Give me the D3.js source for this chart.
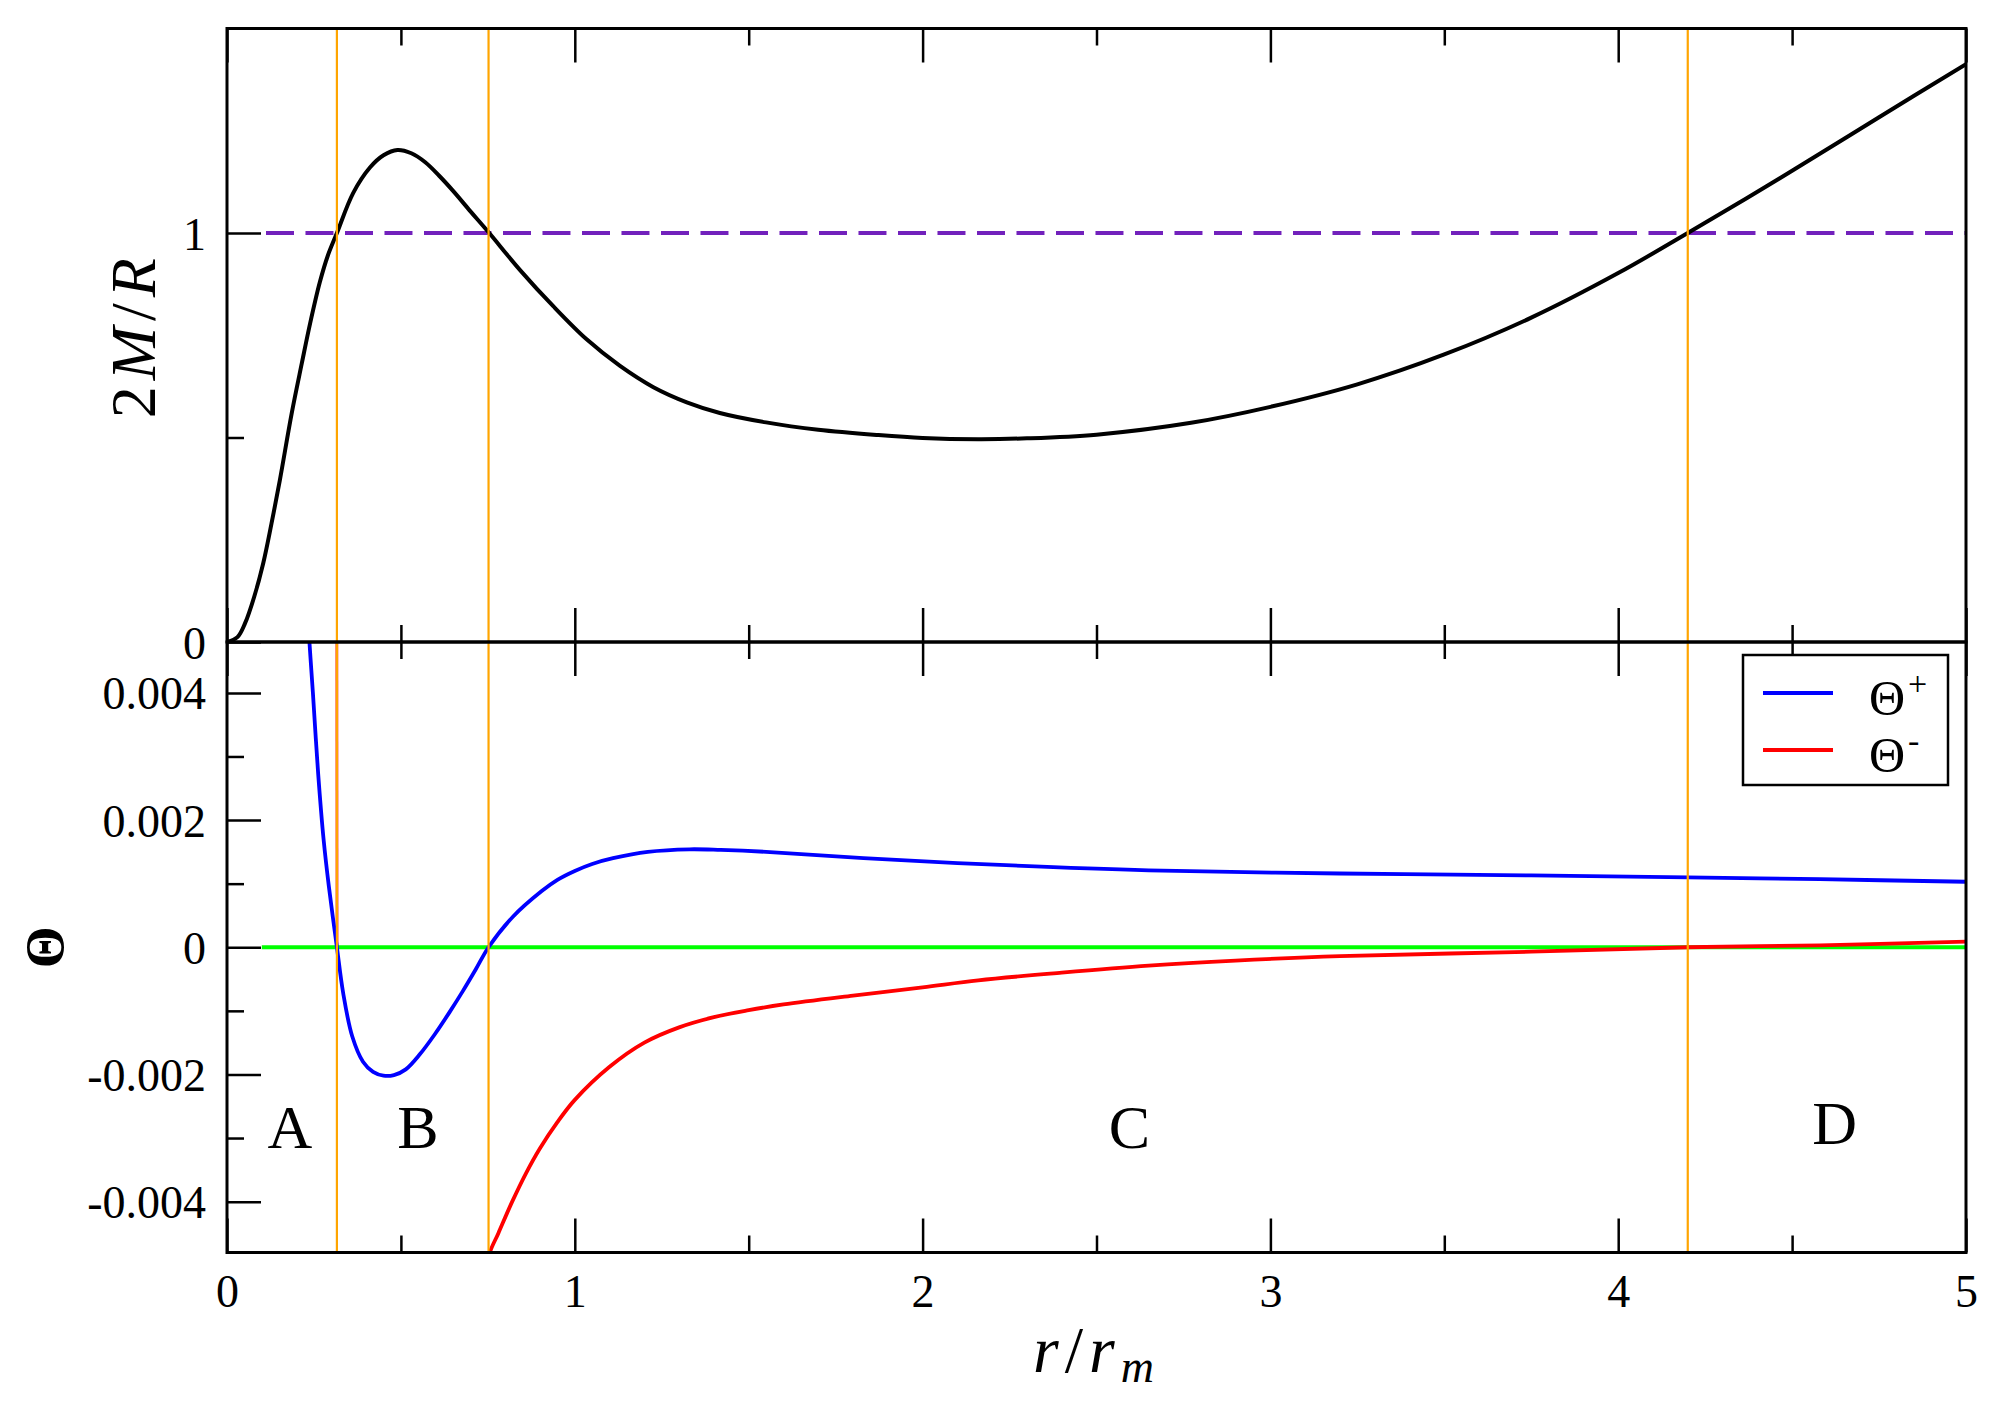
<!DOCTYPE html>
<html><head><meta charset="utf-8">
<script src="https://cdn.jsdelivr.net/npm/d3@7"></script>
<style>body{margin:0;background:#fff} text{font-family:'Liberation Serif','Times New Roman',serif;}</style>
</head><body>
<svg id="c" width="2006" height="1404" xmlns="http://www.w3.org/2000/svg"></svg>
<script>
// ---------- data ----------
const xTicks = [0, 1, 2, 3, 4, 5];
const xMinorTicks = [0.5, 1.5, 2.5, 3.5, 4.5];
const topYTicks = [0, 1];
const topYMinorTicks = [0.5];
const bottomYTicks = [-0.004, -0.002, 0, 0.002, 0.004];
const bottomYMinorTicks = [-0.003, -0.001, 0.001, 0.003];

// 2M/R versus r/r_m
const compactness = [
  [0,0],[0.03,0.012],[0.052,0.046],[0.078,0.11],[0.104,0.192],[0.128,0.29],[0.152,0.396],
  [0.186,0.559],[0.215,0.681],[0.239,0.779],[0.267,0.88],[0.29,0.945],[0.316,1.0],
  [0.363,1.098],[0.411,1.16],[0.45,1.19],[0.49,1.203],[0.53,1.195],[0.57,1.173],
  [0.61,1.14],[0.65,1.103],[0.70,1.053],[0.751,1.003],[0.842,0.910],[0.938,0.821],
  [1.034,0.740],[1.13,0.675],[1.226,0.623],[1.322,0.586],[1.417,0.560],[1.55,0.537],
  [1.7,0.519],[1.873,0.506],[2.0,0.499],[2.16,0.496],[2.3,0.498],[2.5,0.507],
  [2.772,0.536],[3.0,0.575],[3.25,0.630],[3.5,0.703],[3.75,0.793],[4.0,0.902],
  [4.2,1.0],[4.5,1.152],[4.75,1.283],[5.0,1.413]
];
const criticalLevel = [[0.1,1],[5,1]];

// Theta+ and Theta-
const thetaPlus = [
  [0.228,0.0056],[0.237,0.0048],[0.247,0.0040],[0.262,0.00274],[0.278,0.00168],
  [0.293,0.00095],[0.316,0],[0.334,-0.00072],[0.36,-0.0014],[0.391,-0.0018],
  [0.42,-0.00196],[0.45,-0.00202],[0.48,-0.00201],[0.514,-0.00192],[0.555,-0.00168],
  [0.596,-0.00138],[0.64,-0.00102],[0.678,-0.00069],[0.715,-0.00035],[0.752,0],
  [0.822,0.00048],[0.904,0.00088],[0.95,0.00106],[1.0,0.0012],[1.05,0.00131],
  [1.11,0.0014],[1.21,0.0015],[1.33,0.00154],[1.42,0.00153],[1.55,0.0015],[1.83,0.0014],
  [2.24,0.00129],[2.65,0.00121],[3.2,0.00116],[3.75,0.00113],[4.2,0.0011],
  [4.58,0.00107],[5.0,0.00103]
];
const thetaMinusInner = [[0.3155,0.0050],[0.3165,0]];
const thetaMinus = [
  [0.752,-0.0050],[0.756,-0.0048],[0.78,-0.0045],[0.82,-0.0040],[0.86,-0.00355],
  [0.9,-0.00316],[0.95,-0.00275],[1.0,-0.0024],[1.1,-0.00188],[1.2,-0.0015],
  [1.3,-0.00126],[1.4,-0.0011],[1.5,-0.00099],[1.6,-0.0009],[1.8,-0.00076],
  [2.0,-0.00063],[2.16,-0.00052],[2.4,-0.0004],[2.65,-0.00029],[2.9,-0.00021],
  [3.2,-0.00014],[3.75,-0.00007],[4.2,0],[4.58,0.00003],[5.0,0.00009]
];
const zeroLevel = [[0.1,0],[5,0]];

// horizons (orange verticals) and region labels
const horizons = [0.316, 0.752, 4.2];
const regionNames = ["A", "B", "C", "D"];
const regionX = [0.181, 0.549, 2.595, 4.622];
const regionY = [-0.00315, -0.00315, -0.00315, -0.0031];

const legendNames = ["+", "-"];
const legendColors = ["#0000ff", "#ff0000"];

// ---------- layout ----------
const W = 2006, H = 1404;
const L = 227, R = 1966, T = 28.5, M = 642, B = 1252.5;
const FONT = "'Liberation Serif','Times New Roman',serif";

const svg = d3.select("#c");
svg.append("rect").attr("width", W).attr("height", H).attr("fill", "#fff");

const x = d3.scaleLinear().domain([0, 5]).range([L, R]);
const yTop = d3.scaleLinear().domain([0, 1.5]).range([M, T]);
const yBot = d3.scaleLinear().domain([-0.0048, 0.0048]).range([B, M]);

const defs = svg.append("defs");
defs.append("clipPath").attr("id", "clipTop").append("rect")
  .attr("x", L).attr("y", T).attr("width", R - L).attr("height", M - T);
defs.append("clipPath").attr("id", "clipBot").append("rect")
  .attr("x", L).attr("y", M).attr("width", R - L).attr("height", B - M);

const lineOf = ys => d3.line().x(d => x(d[0])).y(d => ys(d[1])).curve(d3.curveCatmullRom.alpha(0.5));

const gTop = svg.append("g").attr("clip-path", "url(#clipTop)");
const gBot = svg.append("g").attr("clip-path", "url(#clipBot)");

// top panel curves
gTop.append("path").datum(criticalLevel).attr("d", lineOf(yTop))
  .attr("fill", "none").attr("stroke", "#7221bc").attr("stroke-width", 4)
  .attr("stroke-dasharray", "28,11.5").attr("stroke-dashoffset", 35.3);
gTop.append("path").datum(compactness).attr("d", lineOf(yTop))
  .attr("fill", "none").attr("stroke", "#000").attr("stroke-width", 4);

// bottom panel curves
gBot.append("path").datum(thetaMinusInner).attr("d", lineOf(yBot))
  .attr("fill", "none").attr("stroke", "#ff0000").attr("stroke-width", 3.5).attr("stroke-opacity", 0.45);
gBot.append("path").datum(zeroLevel).attr("d", lineOf(yBot))
  .attr("fill", "none").attr("stroke", "#00ff00").attr("stroke-width", 3.8);
gBot.append("path").datum(thetaMinus).attr("d", lineOf(yBot))
  .attr("fill", "none").attr("stroke", "#ff0000").attr("stroke-width", 3.8);
gBot.append("path").datum(thetaPlus).attr("d", lineOf(yBot))
  .attr("fill", "none").attr("stroke", "#0000ff").attr("stroke-width", 3.8);

// horizons
svg.append("g").selectAll("line").data(horizons).join("line")
  .attr("x1", d => x(d)).attr("x2", d => x(d))
  .attr("y1", T).attr("y2", B)
  .attr("stroke", "#ffa500").attr("stroke-width", 2.2);

// frames
[[T, M], [M, B]].forEach(([a, b]) => {
  svg.append("rect").attr("x", L).attr("y", a).attr("width", R - L).attr("height", b - a)
    .attr("fill", "none").attr("stroke", "#000").attr("stroke-width", 3);
});

// ---------- axes ----------
function styleAxis(g) {
  g.attr("font-family", FONT).style("font-family", FONT);
  g.select(".domain").remove();
  g.selectAll(".tick line").attr("stroke", "#000").attr("stroke-width", 2.5);
  g.selectAll("text").style("font-family", FONT).style("font-size", "46px").attr("fill", "#000");
}
const MAJ = 34, MIN = 17;
function xAxisPair(yPos, axisFn, withLabels) {
  const gM = svg.append("g").attr("transform", `translate(0,${yPos})`)
    .call(axisFn(x).tickValues(xTicks).tickSizeInner(-MAJ).tickSizeOuter(0)
      .tickFormat(withLabels ? d3.format("d") : () => ""));
  styleAxis(gM);
  const gm = svg.append("g").attr("transform", `translate(0,${yPos})`)
    .call(axisFn(x).tickValues(xMinorTicks).tickSizeInner(-MIN).tickSizeOuter(0).tickFormat(() => ""));
  styleAxis(gm);
  return gM;
}
const gxb = xAxisPair(B, d3.axisBottom, true);
gxb.selectAll("text").attr("y", 54).attr("dy", 0);
xAxisPair(M, d3.axisBottom, false);
xAxisPair(M, d3.axisTop, false);
xAxisPair(T, d3.axisTop, false);

const fmtTheta = d => d === 0 ? "0" : (d < 0 ? "-" : "") + Math.abs(d).toFixed(3);
function yAxis(scale, ticks, minor, fmt) {
  const g = svg.append("g").attr("transform", `translate(${L},0)`)
    .call(d3.axisLeft(scale).tickValues(ticks).tickSizeInner(-MAJ).tickSizeOuter(0).tickPadding(21).tickFormat(fmt));
  styleAxis(g);
  g.selectAll("text").attr("dy", "0.35em");
  const gm = svg.append("g").attr("transform", `translate(${L},0)`)
    .call(d3.axisLeft(scale).tickValues(minor).tickSizeInner(-MIN).tickSizeOuter(0).tickFormat(() => ""));
  styleAxis(gm);
}
yAxis(yTop, topYTicks, topYMinorTicks, d3.format("d"));
yAxis(yBot, bottomYTicks, bottomYMinorTicks, fmtTheta);

// ---------- region labels ----------
svg.append("g").selectAll("text").data(regionNames).join("text")
  .attr("x", (d, i) => x(regionX[i])).attr("y", (d, i) => yBot(regionY[i]))
  .attr("text-anchor", "middle").style("font-family", FONT).attr("font-size", 62)
  .text(d => d);

// ---------- axis titles ----------
const xt = svg.append("text").attr("x", (L + R) / 2).attr("y", 1372)
  .attr("text-anchor", "middle").style("font-family", FONT).attr("font-size", 66)
  .attr("letter-spacing", 6);
xt.append("tspan").attr("font-style", "italic").text("r");
xt.append("tspan").text("/");
xt.append("tspan").attr("font-style", "italic").text("r");
xt.append("tspan").attr("font-style", "italic").attr("font-size", 46).attr("dy", 10).text("m");

const yt = svg.append("text")
  .attr("transform", `translate(155,${(T + M) / 2}) rotate(-90)`)
  .attr("text-anchor", "middle").style("font-family", FONT).attr("font-size", 64)
  .attr("letter-spacing", 6);
yt.append("tspan").text("2");
yt.append("tspan").attr("font-style", "italic").text("M");
yt.append("tspan").text("/");
yt.append("tspan").attr("font-style", "italic").text("R");

svg.append("text")
  .attr("transform", `translate(63,${(M + B) / 2}) rotate(-90)`)
  .attr("text-anchor", "middle").style("font-family", FONT).attr("font-size", 54)
  .attr("font-weight", "bold").text("\u0398");

// ---------- legend ----------
const lg = svg.append("g");
lg.append("rect").attr("x", 1743).attr("y", 655).attr("width", 205).attr("height", 130)
  .attr("fill", "#fff").attr("stroke", "#000").attr("stroke-width", 2.5);
legendNames.forEach((n, i) => {
  const yy = 693 + i * 57;
  lg.append("line").attr("x1", 1763).attr("x2", 1833).attr("y1", yy).attr("y2", yy)
    .attr("stroke", legendColors[i]).attr("stroke-width", 3.8);
  const t = lg.append("text").attr("x", 1869).attr("y", yy + 22)
    .style("font-family", FONT).attr("font-size", 50);
  t.append("tspan").text("\u0398");
  t.append("tspan").attr("font-size", 34).attr("dy", -20).attr("dx", 3).text(n);
});
</script>
</body></html>
